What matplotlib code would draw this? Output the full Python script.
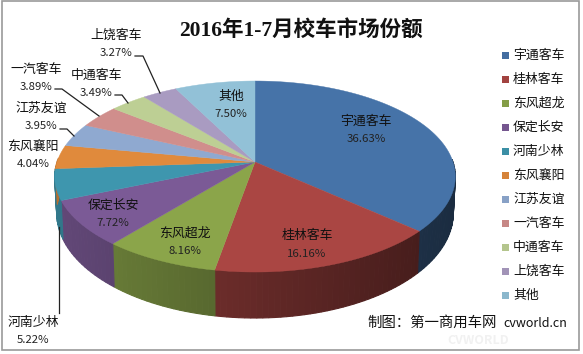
import numpy as np
import matplotlib
matplotlib.use('Agg')
import matplotlib.pyplot as plt
from matplotlib.patches import Polygon, Rectangle

plt.rcParams['font.family'] = ['Noto Sans CJK SC', 'DejaVu Sans']

names = ['宇通客车', '桂林客车', '东风超龙', '保定长安', '河南少林', '东风襄阳',
         '江苏友谊', '一汽客车', '中通客车', '上饶客车', '其他']
shares = [36.63, 16.16, 8.16, 7.72, 5.22, 4.04, 3.95, 3.89, 3.49, 3.27, 7.50]
colors = ['#4673A8', '#AA4643', '#8BA54A', '#7B5A96', '#3E96AE', '#E08A3C',
          '#8FA9D0', '#D08E8C', '#BDCF94', '#A99BC1', '#92C1D7']

# label centres in pixels (name line, the percent goes under it)
label_xy = [(366, 121), (307, 236), (185, 233), (113, 205), (33, 322), (33, 146),
            (41, 108), (36, 69), (96, 75), (116, 35), (231, 96)]
leaders = [[(135, 56), (143, 56), (160, 93)],
           [(115, 95), (122, 95), (128, 103)],
           [(55, 89), (62, 89), (99, 116)],
           [(60, 129), (67, 129), (74, 136)],
           [(59, 227), (59, 313)]]

# pie is tilted with perspective, so go through a small projection
cx, cy = 255, 162
a, b, k = 198, 93.3, 0.152


def top_pts(t):
    u, v = np.sin(t), np.cos(t)
    d = 1 + k * v
    return cx + a * u / d, cy - b * v / d


def bottom_pts(t):
    x, y = top_pts(t)
    return cx + (x - cx) * 0.99, 197 + 1.1 * (y - cy)


def shade(col, f):
    return tuple(c * f for c in matplotlib.colors.to_rgb(col))


fig = plt.figure(figsize=(5.83, 3.54), dpi=100)
ax = fig.add_axes([0, 0, 1, 1])
ax.set_xlim(0, 583)
ax.set_ylim(354, 0)
ax.axis('off')

ax.add_patch(Rectangle((2, 1), 577, 349, fc='white', ec='#9a9a9a', lw=1.2))

# watermark
ax.text(478, 341, 'CVWORLD', fontsize=9, color='#f1f1f1', ha='center', va='center', weight='bold')

edges = np.radians(np.cumsum([0] + shares) / sum(shares) * 360)

# side wall, front half only
for i in range(len(shares)):
    ts = np.linspace(edges[i], edges[i + 1], max(3, int((edges[i + 1] - edges[i]) * 40)))
    for t0, t1 in zip(ts[:-1], ts[1:]):
        if np.cos(t0) > 0.05 or np.cos(t1) > 0.05:
            continue
        x0, y0 = top_pts(t0)
        x1, y1 = top_pts(t1)
        x2, y2 = bottom_pts(t1)
        x3, y3 = bottom_pts(t0)
        f = 0.80 - 0.42 * ((x0 + x1) / 2 - 55) / 400
        c = shade(colors[i], f)
        ax.add_patch(Polygon([(x0, y0), (x1, y1), (x2, y2), (x3, y3)], fc=c, ec=c, lw=0.8))

# top face
for i in range(len(shares)):
    ts = np.linspace(edges[i], edges[i + 1], 80)
    x, y = top_pts(ts)
    ax.add_patch(Polygon(np.vstack([[cx, cy], np.column_stack([x, y])]),
                         fc=colors[i], ec=colors[i], lw=0.3))

for i, (lx, ly) in enumerate(label_xy):
    ax.text(lx, ly, names[i], fontsize=9.3, color='#111111', ha='center', va='center')
    ax.text(lx, ly + 18, '%.2f%%' % shares[i], fontsize=8.2, color='#222222', ha='center', va='center')

for pts in leaders:
    ax.plot([p[0] for p in pts], [p[1] for p in pts], color='#222222', lw=0.9)

# legend
for i, n in enumerate(names):
    ly = 55 + i * 24
    ax.add_patch(Rectangle((502, ly - 3.5), 7, 7, fc=shade(colors[i], 0.95), ec='none'))
    ax.text(513, ly, n, fontsize=9.3, color='#111111', ha='left', va='center')

ax.text(301, 31, '2016年1-7月校车市场份额', fontsize=15.5, weight='bold', color='#111111',
        ha='center', va='center', family=['Liberation Serif', 'Noto Sans CJK SC'])
ax.text(367, 323, '制图：第一商用车网', fontsize=10.4, color='#111111', ha='left', va='center')
ax.text(503, 323.5, 'cvworld.cn', fontsize=9, color='#111111', ha='left', va='center')

fig.savefig('out.png', dpi=100)
